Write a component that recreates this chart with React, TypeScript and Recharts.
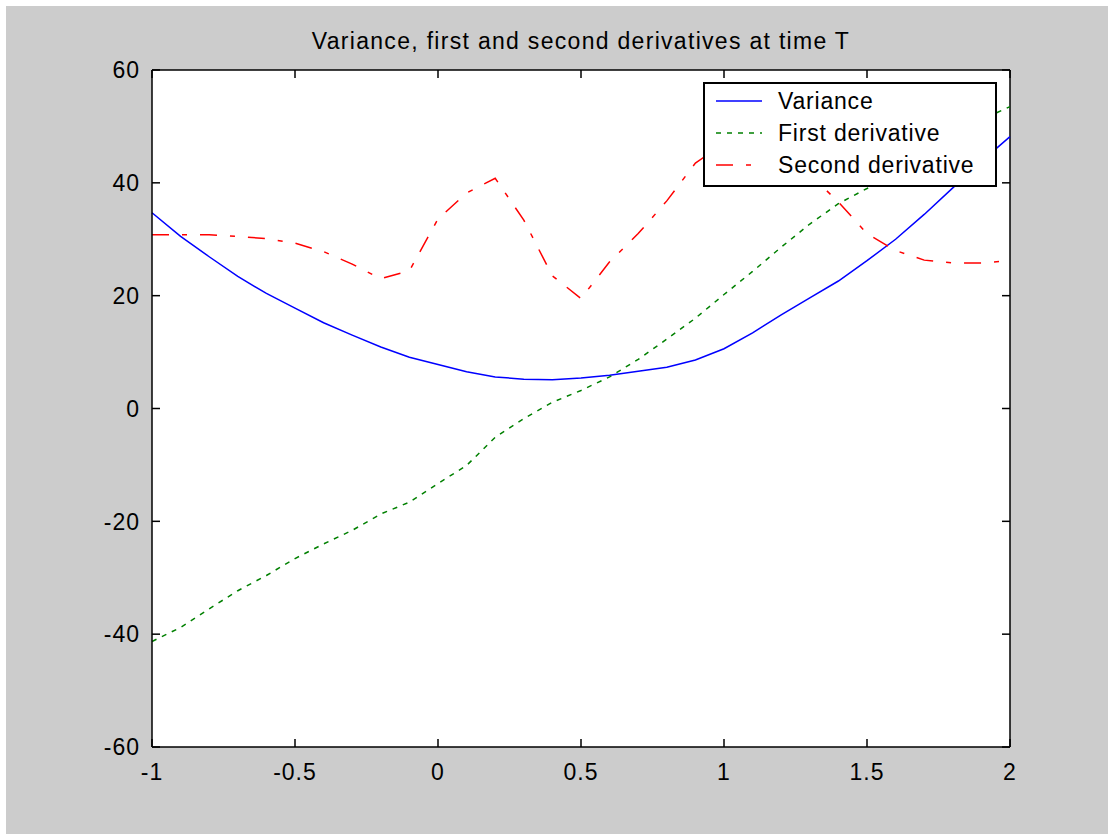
import { LineChart, Line, XAxis, YAxis, CartesianGrid, ReferenceLine } from 'recharts';

// sample points, step 0.1
const xs = [
  -1, -0.9, -0.8, -0.7, -0.6, -0.5, -0.4, -0.3, -0.2, -0.1,
  0, 0.1, 0.2, 0.3, 0.4, 0.5, 0.6, 0.7, 0.8, 0.9,
  1, 1.1, 1.2, 1.3, 1.4, 1.5, 1.6, 1.7, 1.8, 1.9, 2,
];

const variance = [
  34.7, 30.5, 26.9, 23.4, 20.4, 17.8, 15.2, 13.0, 10.9, 9.1,
  7.8, 6.5, 5.6, 5.2, 5.1, 5.4, 5.9, 6.6, 7.3, 8.6,
  10.6, 13.4, 16.6, 19.6, 22.6, 26.2, 30.0, 34.4, 39.1, 43.8, 48.2,
];

const firstDeriv = [
  -41.3, -38.8, -35.5, -32.3, -29.6, -26.6, -24.0, -21.6, -18.7, -16.6,
  -13.3, -10.1, -5.1, -1.8, 1.1, 3.2, 5.6, 8.7, 12.3, 16.0,
  20.2, 24.3, 28.6, 32.7, 36.3, 39.0, 42.0, 45.3, 48.4, 51.2, 53.5,
];

const secondDeriv = [
  30.8, 30.8, 30.8, 30.5, 30.1, 29.3, 27.8, 25.6, 23.0, 24.4,
  33.6, 38.2, 40.8, 33.4, 23.5, 19.5, 26.0, 31.0, 36.8, 43.5,
  47.0, 40.0, 43.0, 41.5, 36.6, 31.0, 28.0, 26.3, 25.8, 25.8, 26.2,
];

const xTicks = [-1, -0.5, 0, 0.5, 1, 1.5, 2];
const yTicks = [-60, -40, -20, 0, 20, 40, 60];

const title = 'Variance, first and second derivatives at time T';

const series = [
  { key: 'variance', name: 'Variance', color: '#0000ff', dash: undefined as string | undefined },
  { key: 'first', name: 'First derivative', color: '#008000', dash: '5 6' },
  { key: 'second', name: 'Second derivative', color: '#ff0000', dash: '17 13 5 13' },
];

const data = xs.map((x, i) => ({
  x,
  variance: variance[i],
  first: firstDeriv[i],
  second: secondDeriv[i],
}));

// layout (chart coordinates)
const W = 1102;
const H = 828;
const PLOT_L = 146;
const PLOT_R = 1004;
const PLOT_T = 64;
const PLOT_B = 741;
const TICK = 8;
const FONT = '"Liberation Sans", Arial, sans-serif';

function XTick(props: any) {
  const { x, payload } = props;
  return (
    <g>
      <line x1={x} x2={x} y1={PLOT_B} y2={PLOT_B - TICK} stroke="#000" strokeWidth={1.5} />
      <line x1={x} x2={x} y1={PLOT_T} y2={PLOT_T + TICK} stroke="#000" strokeWidth={1.5} />
      <text x={x} y={PLOT_B + 33} textAnchor="middle" fontFamily={FONT} fontSize={23} letterSpacing={1} fill="#000">
        {String(payload.value)}
      </text>
    </g>
  );
}

function YTick(props: any) {
  const { y, payload } = props;
  return (
    <g>
      <line x1={PLOT_L} x2={PLOT_L + TICK} y1={y} y2={y} stroke="#000" strokeWidth={1.5} />
      <line x1={PLOT_R - TICK} x2={PLOT_R} y1={y} y2={y} stroke="#000" strokeWidth={1.5} />
      <text x={PLOT_L - 12} y={y} dy="0.36em" textAnchor="end" fontFamily={FONT} fontSize={23} letterSpacing={1} fill="#000">
        {String(payload.value)}
      </text>
    </g>
  );
}

function LegendBox() {
  return (
    <div
      style={{
        position: 'absolute',
        left: 697,
        top: 76,
        width: 294,
        height: 105,
        boxSizing: 'border-box',
        border: '2px solid #000',
        background: '#fff',
        paddingTop: 1,
        fontFamily: FONT,
        fontSize: 23,
        letterSpacing: 0.8,
      }}
    >
      {series.map((s) => (
        <div key={s.key} style={{ height: 32, display: 'flex', alignItems: 'center' }}>
          <svg width={46} height={4} style={{ marginLeft: 11, marginRight: 16 }}>
            <line x1={0} x2={46} y1={2} y2={2} stroke={s.color} strokeWidth={1.5} strokeDasharray={s.dash} />
          </svg>
          <span style={{ color: '#000', lineHeight: '32px' }}>{s.name}</span>
        </div>
      ))}
    </div>
  );
}

export default function App() {
  return (
    <div style={{ position: 'absolute', left: 6, top: 6, width: W, height: H, background: '#cccccc' }}>
      <div
        style={{
          position: 'absolute',
          left: 0,
          width: PLOT_L + PLOT_R,
          top: 24,
          textAlign: 'center',
          fontFamily: FONT,
          fontSize: 23,
          lineHeight: '23px',
          letterSpacing: 1.3,
          color: '#000',
        }}
      >
        {title}
      </div>
      <LineChart
        width={W}
        height={H}
        data={data}
        margin={{ top: PLOT_T, left: 0, right: W - PLOT_R, bottom: 0 }}
      >
        <CartesianGrid fill="#ffffff" horizontal={false} vertical={false} />
        <XAxis
          dataKey="x"
          type="number"
          domain={[-1, 2]}
          ticks={xTicks}
          height={H - PLOT_B}
          tickLine={false}
          axisLine={{ stroke: '#000', strokeWidth: 1.5 }}
          tick={<XTick />}
          interval={0}
        />
        <YAxis
          type="number"
          domain={[-60, 60]}
          ticks={yTicks}
          width={PLOT_L}
          tickLine={false}
          axisLine={{ stroke: '#000', strokeWidth: 1.5 }}
          tick={<YTick />}
          interval={0}
        />
        <ReferenceLine y={60} stroke="#000" strokeWidth={1.5} />
        <ReferenceLine x={2} stroke="#000" strokeWidth={1.5} />
        {series.map((s) => (
          <Line
            key={s.key}
            dataKey={s.key}
            name={s.name}
            type="linear"
            stroke={s.color}
            strokeWidth={1.5}
            strokeDasharray={s.dash}
            dot={false}
            activeDot={false}
            isAnimationActive={false}
          />
        ))}
      </LineChart>
      <LegendBox />
    </div>
  );
}
